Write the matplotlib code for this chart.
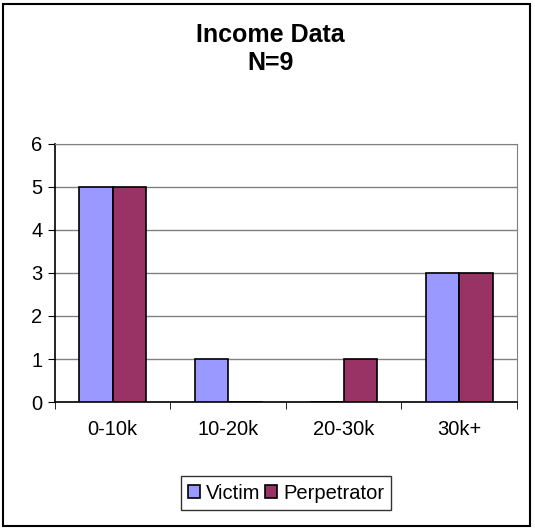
import matplotlib.pyplot as plt
import numpy as np
from matplotlib.patches import Rectangle

plt.rcParams["font.family"] = ["Liberation Sans", "DejaVu Sans"]

# Chart data
categories = ["0-10k", "10-20k", "20-30k", "30k+"]
victim = [5, 1, 0, 3]
perpetrator = [5, 0, 1, 3]

fig = plt.figure(figsize=(5.35, 5.29), dpi=100)
ax = fig.add_axes([0.1028, 0.240, 0.8632, 0.488])

x = np.arange(len(categories))
w = 0.29
ax.bar(x - w / 2, victim, w, color="#9999FF", edgecolor="black", linewidth=1.2,
       label="Victim", zorder=3)
ax.bar(x + w / 2, perpetrator, w, color="#993366", edgecolor="black", linewidth=1.2,
       label="Perpetrator", zorder=3)

ax.set_xlim(-0.5, len(categories) - 0.5)
ax.set_ylim(0, 6)
ax.set_yticks(range(7))
ax.tick_params(axis="y", labelsize=14.5, length=5, direction="out", color="black",
               pad=4)
ax.set_xticks(x)
ax.set_xticklabels(categories, fontsize=14.5)
ax.tick_params(axis="x", length=0, pad=13)
ax.set_xticks(np.arange(-0.5, len(categories), 1), minor=True)
ax.tick_params(axis="x", which="minor", length=5, direction="out", color="black")
ax.yaxis.grid(True, color="#808080", linewidth=1, zorder=0)

for side in ["top", "right"]:
    ax.spines[side].set_color("#808080")
for side in ["left", "bottom"]:
    ax.spines[side].set_color("black")
    ax.spines[side].set_linewidth(1.2)

fig.text(0.505, 0.934, "Income Data", ha="center", va="center",
         fontsize=18, fontweight="bold")
fig.text(0.505, 0.881, "N=9", ha="center", va="center",
         fontsize=18, fontweight="bold")

leg = fig.legend(loc="center", bbox_to_anchor=(0.535, 0.068), ncol=2,
                 fontsize=14.5, frameon=True, fancybox=False, edgecolor="black",
                 handlelength=0.6, handleheight=0.6, handletextpad=0.3,
                 columnspacing=0.2, borderpad=0.35)
leg.get_frame().set_linewidth(1)

fig.patches.append(Rectangle((0.006, 0.006), 0.985, 0.987, transform=fig.transFigure,
                             fill=False, edgecolor="black", linewidth=1.5))

fig.savefig("out.png", dpi=100)
